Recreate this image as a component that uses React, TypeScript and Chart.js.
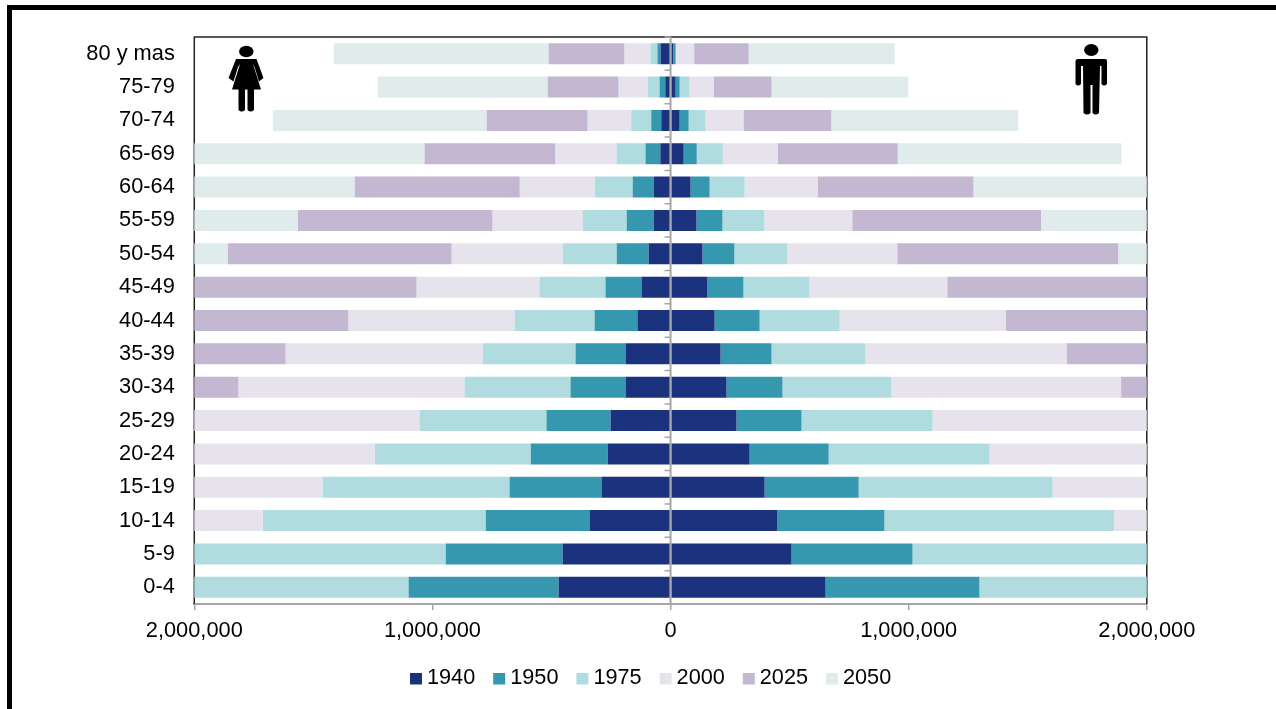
import React, { useEffect, useRef } from "react";
import { Chart, registerables } from "chart.js";

Chart.register(...registerables);

const ageGroups = ["80 y mas","75-79","70-74","65-69","60-64","55-59","50-54","45-49","40-44","35-39","30-34","25-29","20-24","15-19","10-14","5-9","0-4"];
const years = ["1940","1950","1975","2000","2025","2050"];
const yearColors = ["#1b337f","#3598ae","#b0dce0","#e6e3ec","#c3b7d2","#e0ecec"];
const axisTicks = [-2000000,-1000000,0,1000000,2000000];

const women1940 = [42000,22000,39000,43000,71000,71000,92000,122000,139000,189000,189000,252000,264000,290000,340000,453000,470000];
const women1950 = [13000,24000,42000,62000,88000,113000,134000,151000,180000,210000,231000,269000,323000,386000,436000,491000,630000];
const women1975 = [29000,50000,84000,122000,159000,185000,227000,277000,336000,390000,445000,533000,655000,785000,936000,1100000,1050000];
const women2000 = [109000,122000,183000,256000,315000,378000,466000,516000,697000,827000,949000,1000000,1000000,900000,800000,900000,900000];
const women2025 = [319000,298000,424000,550000,693000,818000,940000,1050000,1050000,900000,800000,800000,800000,800000,800000,800000,800000];
const women2050 = [902000,713000,898000,1000000,1100000,1100000,1150000,1200000,1200000,1150000,1100000,1100000,1100000,1000000,1000000,1000000,1000000];

const men1940 = [11000,21000,38000,55000,84000,109000,134000,155000,185000,210000,235000,277000,332000,395000,449000,508000,651000];
const men1950 = [10000,17000,38000,55000,80000,109000,134000,151000,189000,214000,235000,273000,332000,395000,449000,508000,646000];
const men1975 = [2000,42000,71000,109000,147000,176000,222000,277000,336000,395000,457000,550000,676000,814000,965000,1100000,1050000];
const men2000 = [76000,101000,159000,231000,306000,369000,462000,579000,697000,844000,965000,1050000,1000000,900000,800000,900000,900000];
const men2025 = [229000,243000,369000,504000,655000,793000,928000,1050000,1050000,900000,800000,800000,800000,800000,800000,800000,800000];
const men2050 = [613000,575000,785000,940000,1100000,1100000,1150000,1200000,1200000,1150000,1100000,1100000,1100000,1000000,1000000,1000000,1000000];

const womenSeries = [women1940,women1950,women1975,women2000,women2025,women2050];
const menSeries = [men1940,men1950,men1975,men2000,men2025,men2050];

const FONT = '"Liberation Sans", Arial, sans-serif';
const GRAY = "#a6a6a6";
const DARK = "#222222";

function drawWoman(ctx: CanvasRenderingContext2D) {
  ctx.fillStyle = "#000";
  ctx.beginPath();
  ctx.ellipse(246.3, 51.5, 7.2, 5.8, 0, 0, Math.PI * 2);
  ctx.fill();
  ctx.beginPath();
  ctx.moveTo(236, 59);
  ctx.lineTo(256.5, 59);
  ctx.lineTo(263.5, 78);
  ctx.lineTo(259, 81.5);
  ctx.lineTo(254.5, 67);
  ctx.lineTo(253, 64);
  ctx.lineTo(261, 89.5);
  ctx.lineTo(254, 89.5);
  ctx.lineTo(254, 110);
  ctx.quadraticCurveTo(250.5, 113, 247.5, 110);
  ctx.lineTo(247.5, 89.5);
  ctx.lineTo(245, 89.5);
  ctx.lineTo(245, 110);
  ctx.quadraticCurveTo(241.5, 113, 238.5, 110);
  ctx.lineTo(238.5, 89.5);
  ctx.lineTo(232, 89.5);
  ctx.lineTo(240, 64);
  ctx.lineTo(238, 67);
  ctx.lineTo(233.5, 81.5);
  ctx.lineTo(228.5, 78);
  ctx.closePath();
  ctx.fill();
}

function drawMan(ctx: CanvasRenderingContext2D) {
  ctx.fillStyle = "#000";
  ctx.beginPath();
  ctx.ellipse(1091.3, 50, 7.2, 6, 0, 0, Math.PI * 2);
  ctx.fill();
  ctx.beginPath();
  ctx.moveTo(1078, 59);
  ctx.lineTo(1105, 59);
  ctx.quadraticCurveTo(1107, 59, 1107, 61);
  ctx.lineTo(1107, 84);
  ctx.quadraticCurveTo(1104, 87, 1101.5, 84);
  ctx.lineTo(1101.5, 66);
  ctx.lineTo(1100, 66);
  ctx.lineTo(1099, 113);
  ctx.quadraticCurveTo(1095.5, 116, 1092.5, 113);
  ctx.lineTo(1092.5, 85);
  ctx.lineTo(1090.5, 85);
  ctx.lineTo(1090.5, 113);
  ctx.quadraticCurveTo(1087, 116, 1083.5, 113);
  ctx.lineTo(1083, 66);
  ctx.lineTo(1081, 66);
  ctx.lineTo(1081, 84);
  ctx.quadraticCurveTo(1078, 87, 1075.5, 84);
  ctx.lineTo(1075.5, 61);
  ctx.quadraticCurveTo(1075.5, 59, 1078, 59);
  ctx.closePath();
  ctx.fill();
}

const framePlugin = {
  id: "pyramidFrame",
  beforeDatasetsDraw(chart: any) {
    const { ctx, chartArea: a } = chart;
    ctx.save();
    ctx.strokeStyle = DARK;
    ctx.lineWidth = 1.5;
    ctx.beginPath();
    ctx.moveTo(a.left, a.bottom);
    ctx.lineTo(a.left, a.top);
    ctx.lineTo(a.right, a.top);
    ctx.lineTo(a.right, a.bottom);
    ctx.stroke();
    ctx.restore();
  },
  afterDatasetsDraw(chart: any) {
    const { ctx, chartArea: a, scales } = chart;
    const zero = scales.x.getPixelForValue(0);
    const step = (a.bottom - a.top) / ageGroups.length;
    ctx.save();
    ctx.strokeStyle = GRAY;
    ctx.lineWidth = 2;
    ctx.beginPath();
    ctx.moveTo(zero, a.top);
    ctx.lineTo(zero, a.bottom);
    ctx.stroke();
    ctx.lineWidth = 1.5;
    ctx.beginPath();
    for (let i = 0; i <= ageGroups.length; i++) {
      const y = a.top + i * step;
      ctx.moveTo(zero - 6, y);
      ctx.lineTo(zero, y);
    }
    ctx.stroke();
    ctx.restore();
    drawWoman(ctx);
    drawMan(ctx);
  },
  afterDraw(chart: any) {
    const { ctx } = chart;
    ctx.save();
    ctx.font = `21.7px ${FONT}`;
    ctx.textBaseline = "middle";
    ctx.textAlign = "left";
    years.forEach((year, i) => {
      const x = 410 + i * 83.2;
      ctx.fillStyle = yearColors[i];
      ctx.fillRect(x, 673, 12, 11.5);
      ctx.fillStyle = "#000";
      ctx.fillText(year, x + 17, 678.5);
    });
    ctx.restore();
  },
};

export default function App() {
  const ref = useRef<HTMLCanvasElement>(null);
  useEffect(() => {
    if (!ref.current) return;
    const datasets: any[] = [];
    years.forEach((year, i) => {
      datasets.push({ label: year, data: menSeries[i], backgroundColor: yearColors[i], stack: "p", borderWidth: 0, barPercentage: 0.63, categoryPercentage: 1 });
      datasets.push({ label: year + " mujeres", data: womenSeries[i].map((v) => -v), backgroundColor: yearColors[i], stack: "p", borderWidth: 0, barPercentage: 0.63, categoryPercentage: 1 });
    });
    const chart = new Chart(ref.current, {
      type: "bar",
      data: { labels: ageGroups, datasets },
      plugins: [framePlugin],
      options: {
        indexAxis: "y",
        responsive: false,
        animation: false,
        layout: { padding: { left: 0, top: 37, right: 129.2, bottom: 0 } },
        plugins: { legend: { display: false }, tooltip: { enabled: false }, title: { display: false } },
        scales: {
          x: {
            stacked: true,
            min: -2000000,
            max: 2000000,
            afterBuildTicks(scale: any) {
              scale.ticks = axisTicks.map((value) => ({ value }));
            },
            afterFit(scale: any) {
              scale.height = 709 - 604;
            },
            grid: { display: true, drawOnChartArea: false, drawTicks: true, tickLength: 6, color: GRAY, lineWidth: 1.5 },
            border: { display: true, color: GRAY, width: 2 },
            ticks: {
              color: "#000",
              padding: 8,
              maxRotation: 0,
              autoSkip: false,
              font: { family: FONT, size: 21.8 },
              callback: (v: any) => Math.abs(Number(v)).toLocaleString("en-US"),
            },
          },
          y: {
            stacked: true,
            afterFit(scale: any) {
              scale.width = 194.3;
            },
            grid: { display: false },
            border: { display: false },
            ticks: { color: "#000", padding: 11.5, autoSkip: false, font: { family: FONT, size: 21.8 } },
          },
        },
      },
    } as any);
    return () => chart.destroy();
  }, []);
  return (
    <div style={{ position: "fixed", inset: 0, overflow: "hidden", background: "#fff" }}>
      <canvas ref={ref} width={1276} height={709} style={{ position: "absolute", left: 0, top: 0, display: "block" }} />
      <div style={{ position: "absolute", left: 7, top: 5, width: 1500, height: 1000, border: "5px solid #000", boxSizing: "border-box", pointerEvents: "none" }} />
    </div>
  );
}
